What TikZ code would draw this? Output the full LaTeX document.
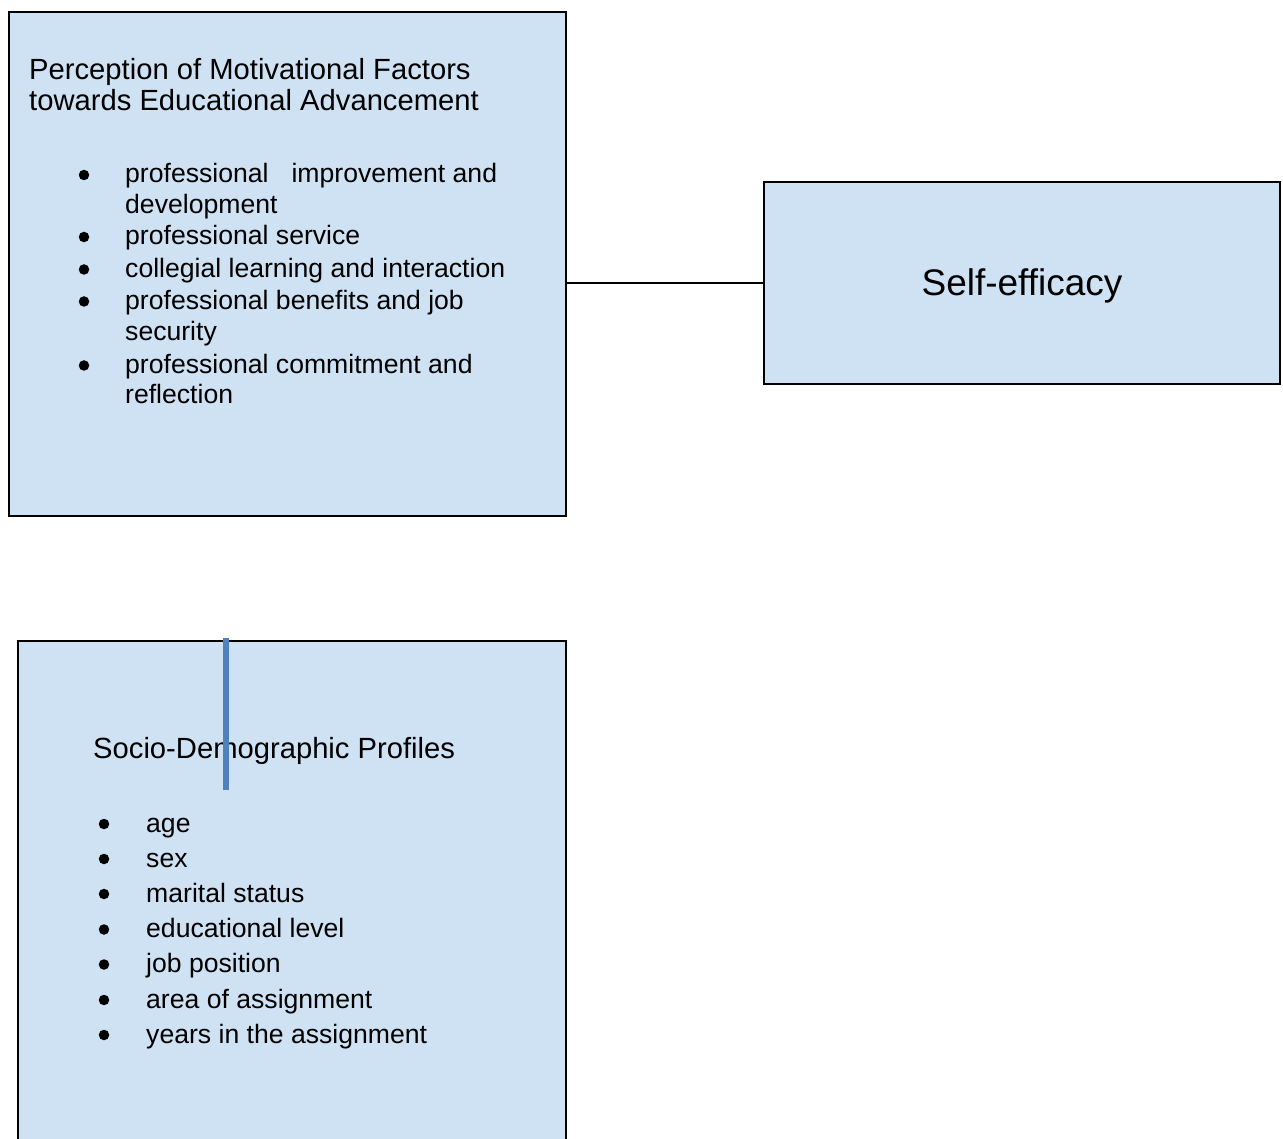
\documentclass[tikz,border=0pt]{standalone}
\usepackage{fontspec}
\setmainfont{Liberation Sans}
\definecolor{boxfill}{RGB}{207,226,243}
\definecolor{markblue}{RGB}{79,129,189}
\begin{document}
\begin{tikzpicture}[x=1pt,y=-1pt,
  panel/.style={draw=black, line width=1.6pt, fill=boxfill, rectangle, inner sep=0pt, outer sep=0pt, anchor=north west},
  titletxt/.style={anchor=base west, inner sep=0pt, font=\fontsize{29.2}{32}\selectfont},
  itemtxt/.style={anchor=base west, inner sep=0pt, font=\fontsize{26.6}{30}\selectfont},
  bul/.style={circle, fill=black, inner sep=0pt, minimum size=10.5pt},
  link/.style={draw=black, line width=1.4pt},
  bluemark/.style={draw=markblue, line width=5.5pt}]
\clip (0,0) rectangle (1283,1139);
\fill[white] (0,0) rectangle (1283,1139);
% boxes
\node[panel, minimum width=557pt, minimum height=504pt] (b1) at (9,12) {};
\node[panel, minimum width=516pt, minimum height=202pt] (b2) at (764,182) {};
\node[panel, minimum width=548pt, minimum height=520pt] (b3) at (18,641) {};
% connector
\draw[link] (b1.east |- b2.west) -- (b2.west);
% self-efficacy
\node[font=\fontsize{37}{40}\selectfont, inner sep=0pt] (se) at ([yshift=-3pt]b2.center) {Self-efficacy};
% box 1 text
\node[titletxt] (p1) at (29,80) {Perception of Motivational Factors};
\node[titletxt] (p2) at (29,111) {towards Educational Advancement};
\foreach \i/\yy/\t in {1/183/{professional\hspace{23pt}improvement and},2/213.5/{development},3/245/{professional service},4/277.5/{collegial learning and interaction},5/309.5/{professional benefits and job},6/341/{security},7/373.5/{professional commitment and},8/404/{reflection}}
  \node[itemtxt] (a\i) at (125,\yy) {\t};
\foreach \i/\yy in {1/183,3/245,4/277.5,5/309.5,7/373.5}
  \node[bul] (ab\i) at (84,\yy-8) {};
% box 3 text
\node[titletxt] (s0) at (93,758.5) {Socio-Demographic Profiles};
\foreach \i/\yy/\t in {1/832/{age},2/867/{sex},3/902/{marital status},4/937.5/{educational level},5/972.5/{job position},6/1008/{area of assignment},7/1043/{years in the assignment}}
{
  \node[itemtxt] (s\i) at (146,\yy) {\t};
  \node[bul] (sb\i) at (104,\yy-8) {};
}
% blue mark
\coordinate (m1) at (226,638);
\coordinate (m2) at (226,790);
\draw[bluemark] (m1) -- (m2);
\end{tikzpicture}
\end{document}
